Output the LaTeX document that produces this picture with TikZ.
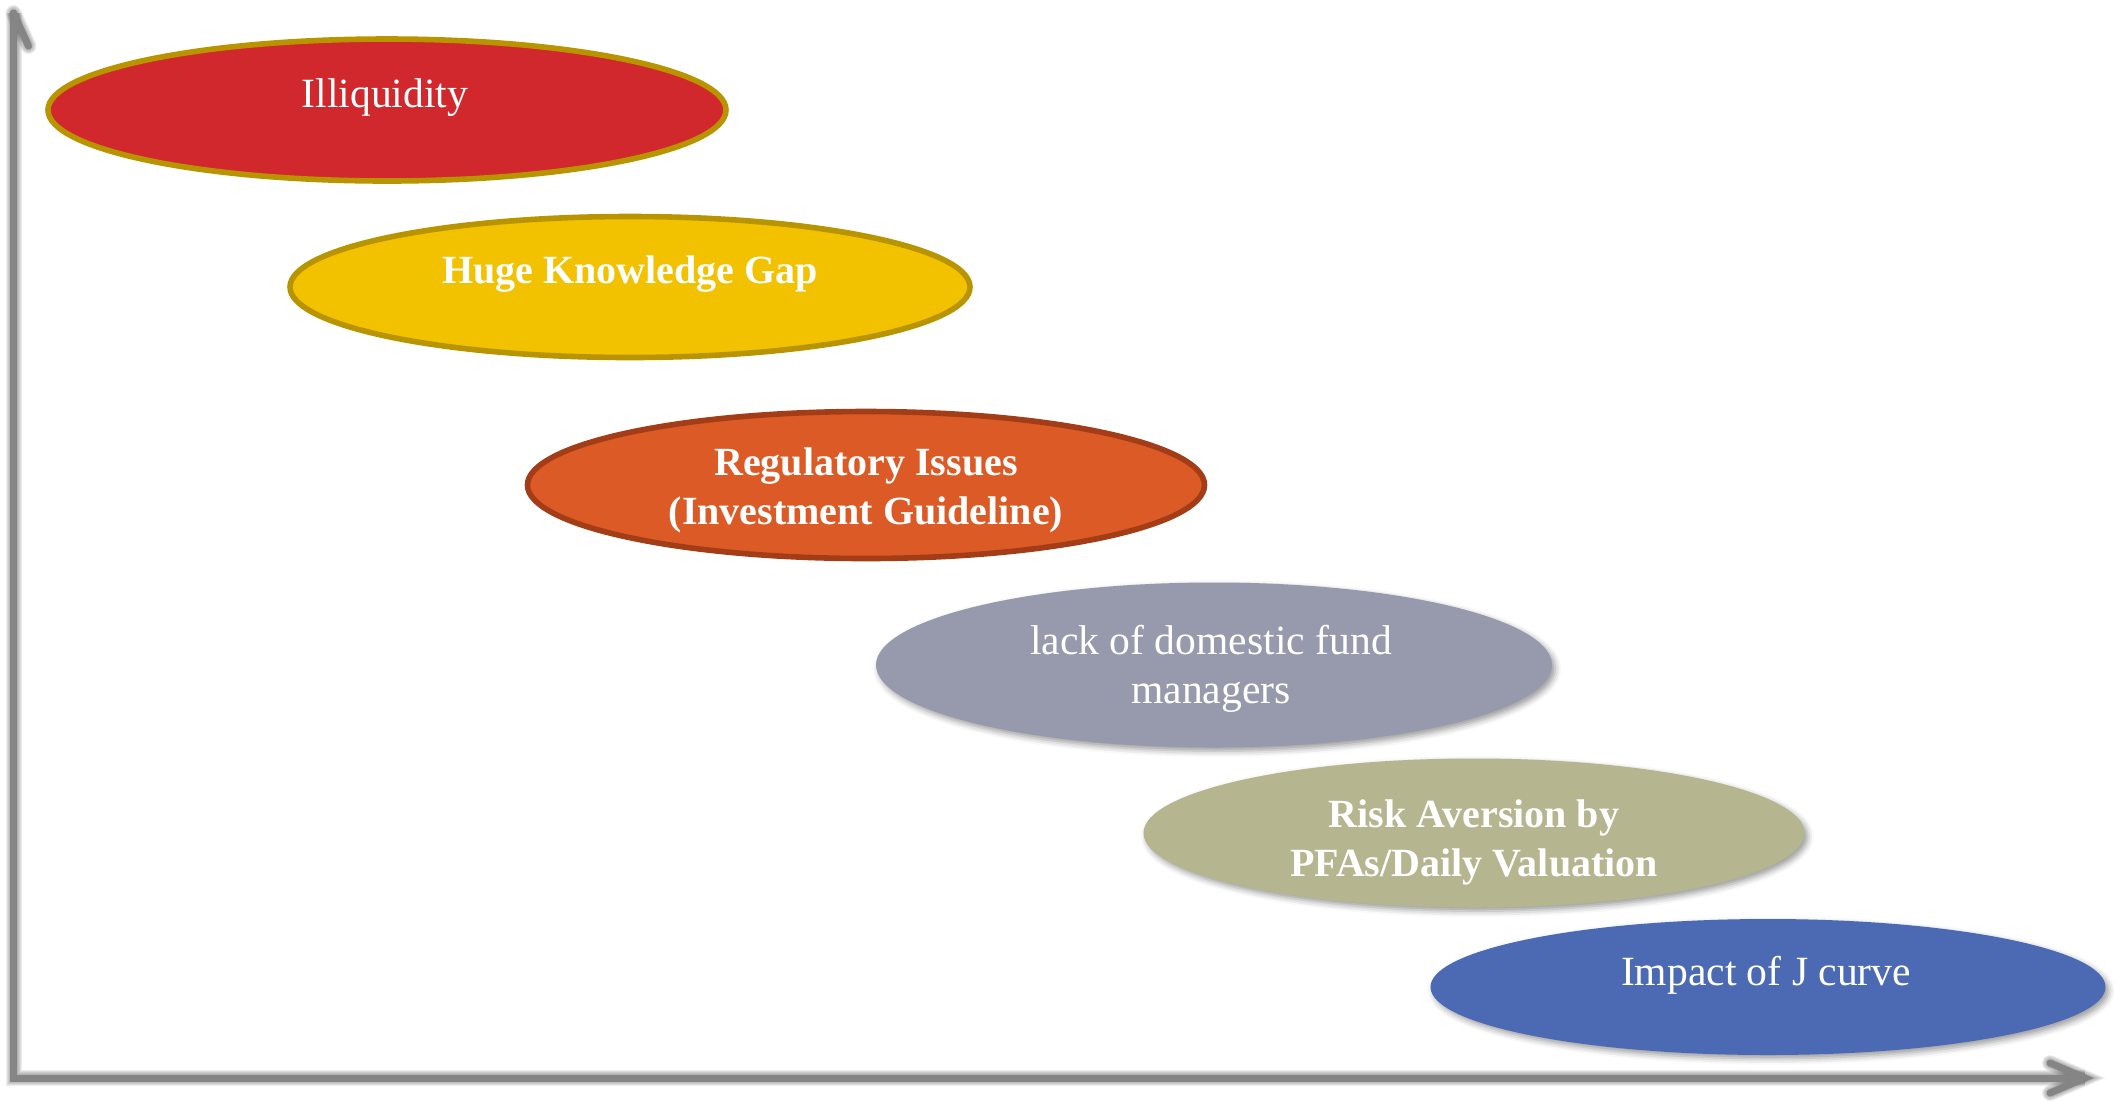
\documentclass[tikz,border=0pt]{standalone}
\usepackage{fontspec}
\setmainfont{Liberation Serif}
\usetikzlibrary{shapes.geometric,shadows.blur}

\definecolor{axisgray}{HTML}{858585}
\definecolor{illiqfill}{HTML}{D1282E}
\definecolor{goldrim}{HTML}{B89400}
\definecolor{gapfill}{HTML}{F2C200}
\definecolor{regfill}{HTML}{DB5A25}
\definecolor{regrim}{HTML}{A33D18}
\definecolor{lackfill}{HTML}{9799AC}
\definecolor{riskfill}{HTML}{B5B58F}
\definecolor{jfill}{HTML}{4B6AB3}

\tikzset{
  blob/.style={ellipse, inner sep=0pt},
  rimmed/.style={blob, line width=2.8pt},
  shaded/.style={blob, blur shadow={shadow xshift=1.6pt, shadow yshift=-1.8pt,
      shadow blur radius=3pt, shadow opacity=40}},
  lbl/.style={text=white, align=center, anchor=base, inner sep=0pt,
      font=\fontsize{20.8}{24.3}\selectfont},
  blbl/.style={lbl, font=\fontsize{20}{24.3}\selectfont\bfseries},
  axis/.style={line width=3.5pt, draw=axisgray},
  axshadow/.style={draw=black, opacity=0.07},
}

\begin{document}
\begin{tikzpicture}[x=0.5pt,y=-0.5pt]
\useasboundingbox (0,0) rectangle (2116,1100);

% axes
\coordinate (origin) at (13.5,1078);
\coordinate (ytip) at (13.5,13);
\coordinate (xtip) at (2085,1078);
\coordinate (yr) at (28.5,46);
\coordinate (xu) at (2050,1063);
\coordinate (xd) at (2050,1093);

% soft shadow of the axes
\foreach \w in {4,5,6,7,8} {
  \begin{scope}[shift={(3,3)}]
    \draw[axshadow, line width=\w pt, line join=miter]
      (xtip) -- (origin) -- (ytip);
    \draw[axshadow, line width=\w pt, line cap=round, line join=round]
      (ytip) -- (yr);
    \draw[axshadow, line width=\w pt, line cap=round, line join=miter]
      (xu) -- (xtip) -- (xd);
  \end{scope}
}
\draw[axis, line join=miter, line cap=round] (xtip) -- (origin) -- (ytip);
\draw[axis, line cap=round] (ytip) -- (yr);
\draw[axis, line cap=round, line join=miter] (xu) -- (xtip) -- (xd);

% ellipses
\node[rimmed, fill=illiqfill, draw=goldrim,
      minimum width=339pt, minimum height=71pt] (illiq) at (387,110) {};
\node[rimmed, fill=gapfill, draw=goldrim,
      minimum width=340pt, minimum height=70.5pt] (gap) at (630,287) {};
\node[rimmed, fill=regfill, draw=regrim,
      minimum width=338.5pt, minimum height=73.5pt] (reg) at (866,485) {};
\node[shaded, fill=lackfill,
      minimum width=338pt, minimum height=82.5pt] (lack) at (1214,665) {};
\node[shaded, fill=riskfill,
      minimum width=330.5pt, minimum height=74.5pt] (risk) at (1474,833) {};
\node[shaded, fill=jfill,
      minimum width=337.5pt, minimum height=68pt] (jcurve) at (1768,987) {};

% labels (the base anchor of a two-line label sits on its last line)
\node[lbl]  (illiq-t) at ([xshift=-1pt, yshift=1.5pt]illiq.center) {Illiquidity};
\node[blbl] (gap-t)   at ([yshift=2pt]gap.center) {Huge Knowledge Gap};
\node[blbl] (reg-t)   at ([yshift=-19.7pt]reg.center) {Regulatory Issues\\(Investment Guideline)};
\node[lbl]  (lack-t)  at ([xshift=-1.5pt, yshift=-19pt]lack.center) {lack of domestic fund\\managers};
\node[blbl] (risk-t)  at ([yshift=-21.7pt]risk.center) {Risk Aversion by\\PFAs/Daily Valuation};
\node[lbl]  (jcurve-t) at ([xshift=-1pt, yshift=1pt]jcurve.center) {Impact of J curve};
\end{tikzpicture}
\end{document}
